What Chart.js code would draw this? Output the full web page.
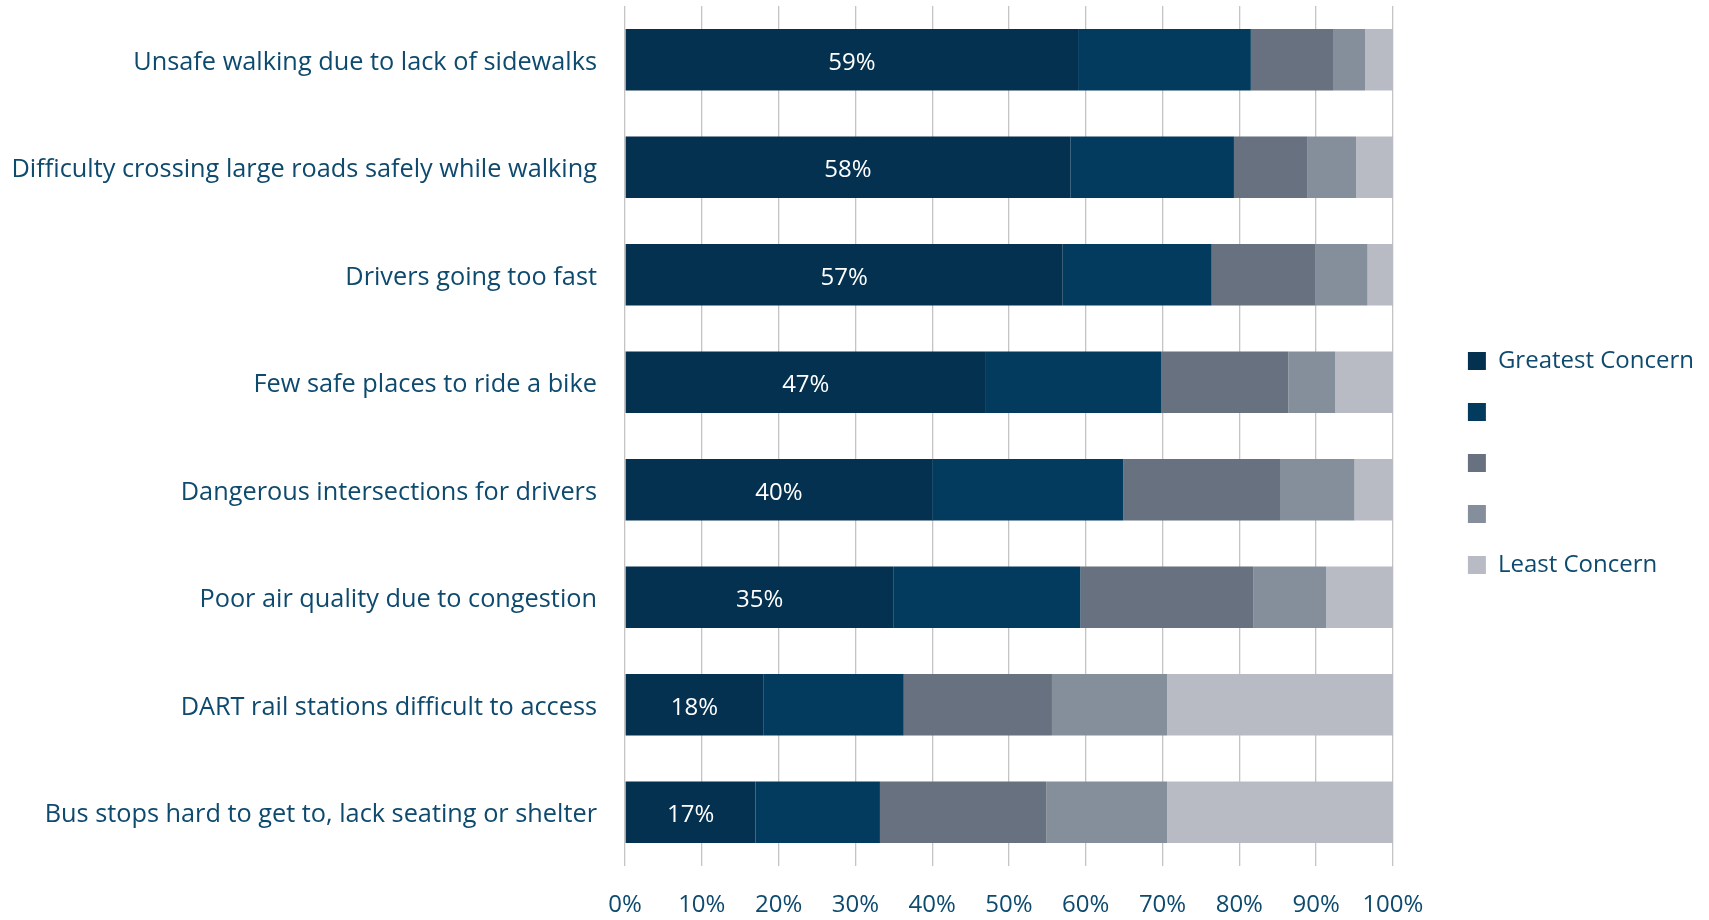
<!DOCTYPE html>
<html><head><meta charset="utf-8">
<script src="https://cdn.jsdelivr.net/npm/chart.js@4"></script>
<style>html,body{margin:0;padding:0;background:#fff;overflow:hidden;} #wrap{width:1709px;height:920px;position:relative;}</style>
</head><body><div id="wrap"><canvas id="c"></canvas></div>
<script>
const categories = [
  'Unsafe walking due to lack of sidewalks',
  'Difficulty crossing large roads safely while walking',
  'Drivers going too fast',
  'Few safe places to ride a bike',
  'Dangerous intersections for drivers',
  'Poor air quality due to congestion',
  'DART rail stations difficult to access',
  'Bus stops hard to get to, lack seating or shelter'
];
const greatest = [59, 58, 57, 47, 40, 35, 18, 17];
const second   = [22.5, 21.3, 19.4, 22.8, 24.9, 24.3, 18.3, 16.2];
const third    = [10.7, 9.6, 13.5, 16.6, 20.4, 22.5, 19.3, 21.7];
const fourth   = [4.2, 6.3, 6.8, 6.1, 9.7, 9.5, 15.0, 15.7];
const least    = [3.6, 4.8, 3.3, 7.5, 5.0, 8.7, 29.4, 29.4];
const seriesNames = ['Greatest Concern', '', '', '', 'Least Concern'];
const xTickValues = [0, 10, 20, 30, 40, 50, 60, 70, 80, 90, 100];

const colors = ['#04314f', '#033b5f', '#67717f', '#858f9b', '#b8bbc4'];
const textColor = '#0d4a6e';
const FONT = "'Open Sans', 'Noto Sans', sans-serif";

const labelPlugin = {
  id: 'segLabels',
  afterDatasetsDraw(chart) {
    const meta = chart.getDatasetMeta(0);
    const ctx = chart.ctx;
    ctx.save();
    ctx.fillStyle = '#ffffff';
    ctx.font = '24px ' + FONT;
    ctx.textAlign = 'center';
    ctx.textBaseline = 'middle';
    meta.data.forEach((bar, i) => {
      const cx = (bar.base + bar.x) / 2;
      ctx.fillText(greatest[i] + '%', cx, bar.y + 3);
    });
    ctx.restore();
  }
};

const seriesData = [greatest, second, third, fourth, least];
new Chart(document.getElementById('c'), {
  type: 'bar',
  data: {
    labels: categories,
    datasets: seriesData.map((d, i) => ({
      label: seriesNames[i],
      data: d,
      backgroundColor: colors[i],
      borderWidth: 0,
      barPercentage: 0.572,
      categoryPercentage: 1.0
    }))
  },
  options: {
    indexAxis: 'y',
    responsive: true,
    maintainAspectRatio: false,
    animation: false,
    layout: { padding: { top: 6, right: 5, bottom: 0, left: 0 } },
    scales: {
      x: {
        stacked: true,
        min: 0, max: 100,
        afterBuildTicks(s) { s.ticks = xTickValues.map(v => ({ value: v })); },
        grid: { color: '#c4c4c4', lineWidth: 1.3, drawTicks: false },
        border: { display: false },
        ticks: {
          color: textColor,
          font: { family: FONT, size: 24 },
          padding: 25,
          callback: v => v + '%'
        },
        afterFit(s) { s.height = 54; s.paddingLeft = 0; s.paddingRight = 0; }
      },
      y: {
        stacked: true,
        grid: { display: false, drawTicks: false },
        border: { display: false },
        ticks: {
          color: textColor,
          font: { family: FONT, size: 25.3 },
          padding: 28,
          labelOffset: 3
        },
        afterFit(s) { s.width = 625; s.paddingTop = 0; s.paddingBottom = 0; }
      },
      y2: {
        type: 'category',
        position: 'right',
        display: true,
        grid: { display: false, drawTicks: false },
        border: { display: false },
        ticks: { display: false },
        afterFit(s) { s.width = 48; s.paddingTop = 0; s.paddingBottom = 0; }
      }
    },
    plugins: {
      legend: {
        position: 'right',
        align: 'center',
        labels: {
          boxWidth: 18,
          boxHeight: 18,
          padding: 27,
          color: textColor,
          font: { family: FONT, size: 24 }
        }
      },
      tooltip: { enabled: false }
    }
  },
  plugins: [labelPlugin]
});
</script>
</body></html>
